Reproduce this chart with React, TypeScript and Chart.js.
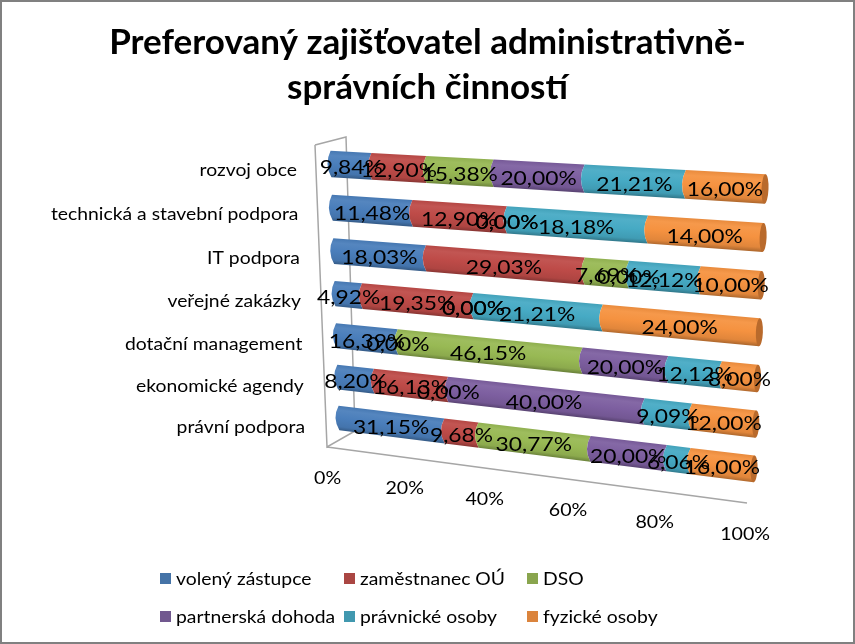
import React, { useEffect, useRef } from "react";
import { Chart, registerables } from "chart.js";

Chart.register(...registerables);

const categories = [
  "rozvoj obce",
  "technická a stavební podpora",
  "IT podpora",
  "veřejné zakázky",
  "dotační management",
  "ekonomické agendy",
  "právní podpora",
];
const volenyZastupce = [9.84, 11.48, 18.03, 4.92, 16.39, 8.2, 31.15];
const zamestnanecOU = [12.9, 12.9, 29.03, 19.35, 0, 16.13, 9.68];
const dso = [15.38, 0, 7.69, 0, 46.15, 0, 30.77];
const partnerskaDohoda = [20, 0, 0, 0, 20, 40, 20];
const pravnickeOsoby = [21.21, 18.18, 12.12, 21.21, 12.12, 9.09, 6.06];
const fyzickeOsoby = [16, 14, 10, 24, 8, 12, 16];

const seriesNames = ["volený zástupce", "zaměstnanec OÚ", "DSO", "partnerská dohoda", "právnické osoby", "fyzické osoby"];
const seriesValues = [volenyZastupce, zamestnanecOU, dso, partnerskaDohoda, pravnickeOsoby, fyzickeOsoby];
const seriesColors = ["#4573A7", "#AA4643", "#89A54E", "#71588F", "#4198AF", "#DB843D"];
const barColors = ["#4A7EBB", "#BE4B48", "#98B954", "#7D5FA0", "#46AAC4", "#F59240"];
const titleLines = ["Preferovaný zajišťovatel administrativně-", "správních činností"];
const tickStep = 20;

const FONT = "Lato, 'Open Sans', sans-serif";

// projected plot box: row-centre corners of the tilted cylinders
const Q = { tl: [331, 164], tr: [765, 189], bl: [339, 418], br: [754, 469] };

function makeHomography() {
  const [x0, y0] = Q.tl, [x1, y1] = Q.tr, [x2, y2] = Q.br, [x3, y3] = Q.bl;
  const dx1 = x1 - x2, dx2 = x3 - x2, sx = x0 - x1 + x2 - x3;
  const dy1 = y1 - y2, dy2 = y3 - y2, sy = y0 - y1 + y2 - y3;
  const det = dx1 * dy2 - dx2 * dy1;
  const g = (sx * dy2 - dx2 * sy) / det;
  const h = (dx1 * sy - sx * dy1) / det;
  const a = x1 - x0 + g * x1, b = x3 - x0 + h * x3, c = x0;
  const d = y1 - y0 + g * y1, e = y3 - y0 + h * y3, f = y0;
  return (u: number, s: number) => {
    const w = g * u + h * s + 1;
    return [(a * u + b * s + c) / w, (d * u + e * s + f) / w] as [number, number];
  };
}
const H = makeHomography();

function shade(hex: string, k: number) {
  const n = parseInt(hex.slice(1), 16);
  const ch = [(n >> 16) & 255, (n >> 8) & 255, n & 255];
  const out = ch.map((v) => Math.round(k >= 1 ? v + (255 - v) * (k - 1) : v * k));
  return `rgb(${out[0]},${out[1]},${out[2]})`;
}

function wideText(ctx: any, text: string, x: number, y: number, stretch: number) {
  ctx.save();
  ctx.translate(x, y);
  ctx.scale(stretch, 1);
  ctx.fillText(text, 0, 0);
  ctx.restore();
}

const cylinderPlugin = {
  id: "cylinder",
  beforeDraw(chart: any) {
    const { ctx, width, height } = chart;
    ctx.save();
    ctx.fillStyle = "#fff";
    ctx.fillRect(0, 0, width, height);
    ctx.strokeStyle = "#808080";
    ctx.lineWidth = 2;
    ctx.strokeRect(1, 1, width - 2, height - 2);
    ctx.restore();
  },
  beforeDatasetDraw() {
    return false;
  },
  afterDatasetsDraw(chart: any) {
    const { ctx, chartArea } = chart;
    const xs = chart.scales.x;
    const ys = chart.scales.y;
    const n = categories.length;
    const lastIndex = chart.data.datasets.length - 1;
    const toUV = (px: number, py: number) => {
      const u = (px - chartArea.left) / chartArea.width;
      const v = (py - chartArea.top) / chartArea.height;
      const s = (v - 0.5 / n) / ((n - 1) / n);
      return H(u, s);
    };

    // box frame
    ctx.save();
    ctx.strokeStyle = "#A6A6A6";
    ctx.lineWidth = 1.5;
    ctx.beginPath();
    ctx.moveTo(315, 145); ctx.lineTo(346, 137); ctx.lineTo(355, 431); ctx.lineTo(327, 447); ctx.lineTo(315, 145);
    ctx.moveTo(327, 447); ctx.lineTo(747, 503);
    ctx.stroke();
    ctx.restore();

    const segPath = (p: any, arcL: number, arcR: number) => {
      ctx.beginPath();
      ctx.moveTo(p.a[0], p.a[1]);
      ctx.quadraticCurveTo(p.l[0] - arcL, p.l[1], p.b[0], p.b[1]);
      ctx.lineTo(p.c[0], p.c[1]);
      ctx.quadraticCurveTo(p.r[0] - arcR, p.r[1], p.d[0], p.d[1]);
      ctx.closePath();
    };

    const labels: any[] = [];
    chart.data.datasets.forEach((ds: any, di: number) => {
      const meta = chart.getDatasetMeta(di);
      meta.data.forEach((el: any, ri: number) => {
        const raw = seriesValues[di][ri];
        const x0 = el.base, x1 = el.x;
        const top = el.y - el.height / 2, bot = el.y + el.height / 2;
        const a = toUV(x0, top), b = toUV(x0, bot), c = toUV(x1, bot), d = toUV(x1, top);
        const l = toUV(x0, el.y), r = toUV(x1, el.y);
        const mid = toUV((x0 + x1) / 2, el.y);
        labels.push({ text: raw.toFixed(2).replace(".", ",") + "%", x: mid[0], y: mid[1] + 3 });
        if (raw > 0) {
          // gradient runs square to the cylinder's axis
          const ax = r[0] - l[0], ay = r[1] - l[1];
          const len = Math.hypot(ax, ay) || 1;
          const nx = -ay / len, ny = ax / len;
          const half = Math.hypot(b[0] - a[0], b[1] - a[1]) / 2;
          const grad = ctx.createLinearGradient(mid[0] - nx * half, mid[1] - ny * half, mid[0] + nx * half, mid[1] + ny * half);
          const base = barColors[di];
          grad.addColorStop(0, shade(base, 0.95));
          grad.addColorStop(0.18, shade(base, 1.06));
          grad.addColorStop(0.5, shade(base, 1));
          grad.addColorStop(0.85, shade(base, 0.92));
          grad.addColorStop(1, shade(base, 0.72));
          segPath({ a, b, c, d, l, r }, 7, di === lastIndex ? 0 : 7);
          ctx.fillStyle = grad;
          ctx.fill();
        }
      });
    });

    // far end caps
    const last = chart.getDatasetMeta(lastIndex);
    last.data.forEach((el: any) => {
      const top = el.y - el.height / 2, bot = el.y + el.height / 2;
      const a = toUV(el.x, top), b = toUV(el.x, bot);
      const cx = (a[0] + b[0]) / 2, cy = (a[1] + b[1]) / 2;
      const ry = Math.hypot(a[0] - b[0], a[1] - b[1]) / 2;
      ctx.save();
      ctx.translate(cx, cy);
      ctx.rotate(Math.atan2(b[1] - a[1], b[0] - a[0]) - Math.PI / 2);
      ctx.beginPath();
      ctx.ellipse(0, 0, 3.5, ry, 0, 0, Math.PI * 2);
      ctx.fillStyle = "#B96A2C";
      ctx.fill();
      ctx.restore();
    });

    // data labels
    ctx.save();
    ctx.fillStyle = "#000";
    ctx.textBaseline = "middle";
    ctx.textAlign = "center";
    ctx.font = `19px ${FONT}`;
    labels.forEach((t) => wideText(ctx, t.text, t.x, t.y, 1.2));

    // value axis tick labels, on the projected front edge
    ctx.font = `18px ${FONT}`;
    xs.ticks.forEach((tick: any) => {
      const t = tick.value / 100;
      const px = xs.getPixelForValue(tick.value);
      const p = toUV(px, chartArea.bottom);
      wideText(ctx, `${tick.value}%`, p[0] - 12 + t * 4, p[1] + 40 + t * 3, 1.09);
    });

    // category tick labels
    ctx.textAlign = "right";
    categories.forEach((name, i) => {
      const p = toUV(chartArea.left, ys.getPixelForValue(i));
      wideText(ctx, name, p[0] - 34, p[1] + 6 + i * 0.6, 1.074);
    });

    // legend
    ctx.textAlign = "left";
    const colX = [160, 344, 527];
    const rowY = [578, 616];
    chart.data.datasets.forEach((ds: any, i: number) => {
      const cx = colX[i % 3], cy = rowY[Math.floor(i / 3)];
      ctx.fillStyle = ds.backgroundColor;
      ctx.fillRect(cx, cy - 5, 11, 11);
      ctx.fillStyle = "#000";
      wideText(ctx, ds.label, cx + 16, cy + 1, 1.074);
    });
    ctx.restore();
  },
};

export default function App() {
  const ref = useRef<HTMLCanvasElement | null>(null);
  useEffect(() => {
    const rowTotals = categories.map((_, i) => seriesValues.reduce((sum, s) => sum + s[i], 0));
    const chart = new Chart(ref.current as HTMLCanvasElement, {
      type: "bar",
      data: {
        labels: categories,
        datasets: seriesNames.map((label, i) => ({
          label,
          data: seriesValues[i].map((v, r) => (v / rowTotals[r]) * 100),
          backgroundColor: seriesColors[i],
          categoryPercentage: 1,
          barPercentage: 0.6,
        })),
      },
      options: {
        indexAxis: "y",
        responsive: false,
        animation: false,
        events: [],
        layout: { padding: { left: 0, right: 0, top: 0, bottom: 170 } },
        plugins: {
          legend: { display: false },
          tooltip: { enabled: false },
          title: {
            display: true,
            text: titleLines,
            color: "#000",
            font: { family: FONT, size: 35, weight: "bold", lineHeight: 1.29 },
            padding: { top: 20, bottom: 30 },
          },
        },
        scales: {
          x: {
            stacked: true,
            min: 0,
            max: 100,
            ticks: { stepSize: tickStep, display: false },
            grid: { display: false },
            border: { display: false },
          },
          y: {
            stacked: true,
            ticks: { display: false },
            grid: { display: false },
            border: { display: false },
          },
        },
      },
      plugins: [cylinderPlugin],
    } as any);
    return () => chart.destroy();
  }, []);
  return (
    <div style={{ position: "fixed", left: 0, top: 0, width: 855, height: 644, background: "#fff" }}>
      <canvas ref={ref} width={855} height={644} style={{ display: "block" }} />
    </div>
  );
}
